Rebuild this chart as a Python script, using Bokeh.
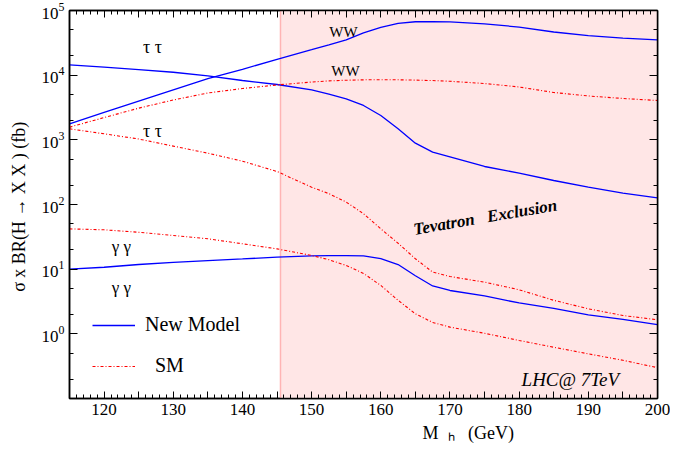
from bokeh.plotting import figure
from bokeh.models import (Range1d, FixedTicker, LinearAxis, LogAxis, Label, Legend,
                          LegendItem, BoxAnnotation, Span, CustomLabelingPolicy, Title)
from bokeh.embed import file_html
from bokeh.resources import INLINE

# ---- data ----
mh = [115, 120, 125, 130, 135, 140, 145, 150, 152.5, 155, 157.5, 160, 162.5,
      165, 167.5, 170, 175, 180, 185, 190, 195, 200]

new_ww = [1770, 2650, 3960, 5930, 8870, 12300, 17600, 24800, 29500, 35200, 45000,
          55000, 63000, 67000, 67500, 66500, 62000, 55500, 46500, 41000, 37500, 35200]
sm_ww = [1570, 2210, 3090, 4130, 5300, 6220, 7050, 7840, 8150, 8350, 8470,
         8510, 8480, 8380, 8250, 8040, 7430, 6560, 5400, 4770, 4360, 4060]
new_tautau = [14400, 13300, 12200, 11100, 9780, 8270, 7170, 5940, 5100, 4310, 3400,
              2380, 1480, 887, 644, 543, 387, 305, 235, 185, 150, 127]
sm_tautau = [1480, 1240, 1030, 800, 621, 468, 324, 185, 147, 109, 72,
             42, 25.2, 14.5, 9.0, 7.7, 6.3, 4.8, 3.3, 2.44, 1.92, 1.65]
new_gaga = [10, 10.7, 11.8, 12.7, 13.6, 14.4, 15.3, 16.0, 16.2, 16.2, 16.0,
            14.5, 11.8, 7.9, 5.5, 4.68, 3.85, 3.0, 2.47, 1.96, 1.67, 1.39]
sm_gaga = [42, 40.6, 37.2, 33.2, 29.5, 24.7, 20.6, 16.3, 14.0, 11.4, 8.6,
           5.6, 3.3, 2.04, 1.5, 1.27, 1.02, 0.79, 0.62, 0.49, 0.39, 0.30]

excl_start = 145.5
excl_end = 200

x_ticks = [120, 125, 130, 135, 140, 145, 150, 155, 160, 165, 170, 175, 180,
           185, 190, 195, 200]          # labels shown on every other one (the tens)
y_ticks = [1, 10, 100, 1000, 10000, 100000]
y_minor = [0.2, 0.5, 2, 5, 20, 50, 200, 500, 2000, 5000, 20000, 50000]

FONT = "Liberation Serif"
BLUE = "#0000ff"
RED = "#ff0000"
DASH = "3 2 1 2"
NB = "\u00a0"

p = figure(width=670, height=448, y_axis_type="log",
           x_range=Range1d(115, 200), y_range=Range1d(0.1, 1e5),
           output_backend="svg", toolbar_location=None,
           min_border_left=69, min_border_right=13, min_border_top=10,
           min_border_bottom=50)
p.xgrid.visible = False
p.ygrid.visible = False
p.outline_line_color = "black"
p.outline_line_width = 1.5
p.background_fill_color = "white"

# exclusion band
p.add_layout(BoxAnnotation(left=excl_start, right=excl_end, fill_color="#ffe6e6",
                           fill_alpha=1, line_alpha=0, level="underlay"))
p.add_layout(Span(location=excl_start, dimension="height", line_color="#ffb4b4",
                  line_width=1.5, level="underlay"))

r_new = None
r_sm = None
for ys in (new_ww, new_tautau, new_gaga):
    r = p.line(mh, ys, line_color=BLUE, line_width=1.3)
    r_new = r_new or r
for ys in (sm_ww, sm_tautau, sm_gaga):
    r = p.line(mh, ys, line_color=RED, line_width=1.1, line_dash=DASH)
    r_sm = r_sm or r

xt = FixedTicker(ticks=x_ticks, minor_ticks=list(range(115, 201)))
yt = FixedTicker(ticks=y_ticks, minor_ticks=y_minor)

no_labels = CustomLabelingPolicy(code="""
for (const i of indices) indices.unset(i)
return indices
""")
tens_only = CustomLabelingPolicy(code="""
for (const i of indices) if (i % 2 == 1) indices.unset(i)
return indices
""")

def style(ax, labels=True, major_len=8):
    ax.axis_line_color = "black"
    ax.axis_line_width = 1.5
    ax.major_tick_in = major_len
    ax.major_tick_out = 0
    ax.minor_tick_in = 4
    ax.minor_tick_out = 0
    ax.major_tick_line_color = "black"
    ax.minor_tick_line_color = "black"
    ax.major_label_text_font = FONT
    ax.major_label_text_color = "black"
    if labels:
        ax.major_label_text_font_size = "17px"
        ax.major_label_standoff = 5
    else:
        ax.major_label_text_font_size = "1px"
        ax.major_label_standoff = 0
        ax.major_label_policy = no_labels

p.xaxis.ticker = xt
p.yaxis.ticker = yt
style(p.xaxis[0], major_len=7)
p.xaxis.major_label_policy = tens_only
style(p.yaxis[0])
p.yaxis.axis_label = "σ x BR(H  → X X ) (fb)"
p.yaxis.axis_label_text_font = FONT
p.yaxis.axis_label_text_font_size = "18px"
p.yaxis.axis_label_text_font_style = "normal"
p.yaxis.axis_label_text_color = "black"
p.yaxis.axis_label_standoff = 10

top = LinearAxis(ticker=xt)
style(top, labels=False, major_len=7)
p.add_layout(top, "above")
right = LogAxis(ticker=yt)
style(right, labels=False)
p.add_layout(right, "right")

# x axis label, placed below the axis
p.add_layout(Title(text="M" + NB * 2 + "\u2095" + NB * 3 + "(GeV)", align="left",
                   offset=353, standoff=7, text_font=FONT, text_font_size="18px",
                   text_font_style="normal", text_color="black"), "below")

# curve labels
def lab(x, y, t, size="17px"):
    p.add_layout(Label(x=x, y=y, text=t, text_font=FONT, text_font_size=size,
                       text_color="black", text_align="center",
                       text_baseline="middle"))

lab(127, 27700, "τ τ", "18px")
lab(127, 1346, "τ τ", "18px")
lab(154.6, 45700, "WW", "15px")
lab(154.9, 11800, "WW", "15px")
lab(122.5, 22.4, "γ γ")
lab(122.5, 5.25, "γ γ")

p.add_layout(Label(x=175.1, y=63.7, text="Tevatron" + NB * 3 + "Exclusion", text_font=FONT,
                   text_font_size="17px", text_font_style="bold italic",
                   text_color="black", angle=0.17, text_align="center",
                   text_baseline="middle"))
p.add_layout(Label(x=187.4, y=0.2, text="LHC@ 7TeV", text_font=FONT,
                   text_font_size="19px", text_font_style="italic",
                   text_color="black", text_align="center", text_baseline="middle"))

legend = Legend(items=[LegendItem(label="New Model", renderers=[r_new]),
                       LegendItem(label=NB * 2 + "SM", renderers=[r_sm])],
                location=(19, 17), padding=4, spacing=18, glyph_width=43,
                glyph_height=20, label_height=20, label_standoff=10,
                border_line_alpha=0, background_fill_alpha=0,
                label_text_font=FONT, label_text_font_size="20px",
                label_text_color="black")
p.add_layout(legend, "center")

open("out.html", "w").write(file_html(p, INLINE))
